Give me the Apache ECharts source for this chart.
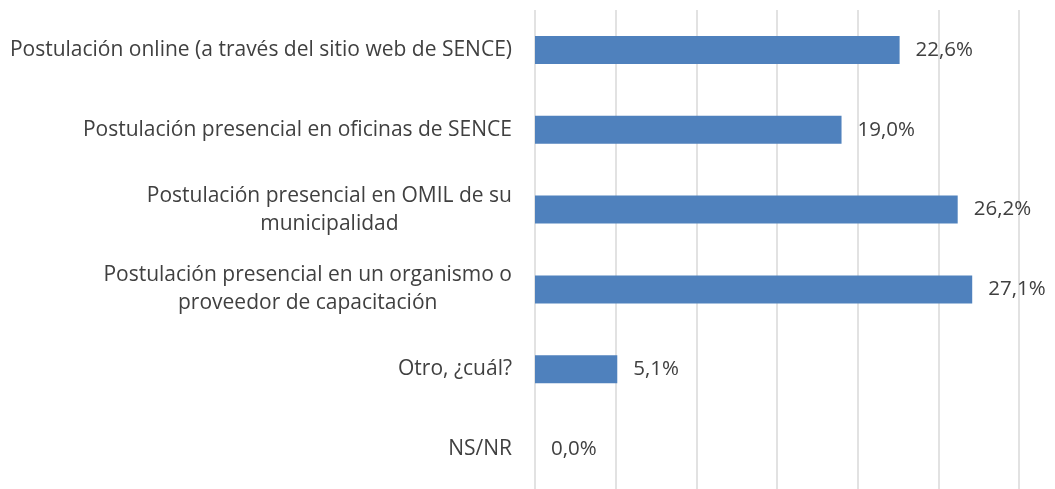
<!DOCTYPE html>
<html>
<head>
<meta charset="utf-8">
<script src="https://cdn.jsdelivr.net/npm/echarts@6/dist/echarts.min.js"></script>
<style>
  html, body { margin: 0; padding: 0; background: #fff; }
  #chart { width: 1055px; height: 489px; }
</style>
</head>
<body>
<div id="chart"></div>
<script>
// categories, top to bottom
const categories = [
  'Postulación online (a través del sitio web de SENCE)',
  'Postulación presencial en oficinas de SENCE',
  'Postulación presencial en OMIL de su\nmunicipalidad',
  'Postulación presencial en un organismo o\nproveedor de capacitación',
  'Otro, ¿cuál?',
  'NS/NR'
];
const values = [22.6, 19.0, 26.2, 27.1, 5.1, 0.0];

const axisMin = 0;
const axisMax = 30;
const axisStep = 5;

let chart = echarts.init(document.getElementById('chart'));

let option = {
  animation: false,
  textStyle: { fontFamily: 'Open Sans' },
  grid: { left: 535, right: 36, top: 10, bottom: -4, containLabel: false },
  xAxis: {
    type: 'value',
    min: axisMin,
    max: axisMax,
    interval: axisStep,
    axisLabel: { show: false },
    axisLine: { show: false },
    axisTick: { show: false },
    splitLine: { show: true, lineStyle: { color: '#d9d9d9', width: 1.5 } }
  },
  yAxis: {
    type: 'category',
    inverse: true,
    data: categories,
    axisLine: { show: false },
    axisTick: { show: false },
    axisLabel: {
      margin: 23,
      fontSize: 21,
      color: '#404040',
      formatter: function (v) {
        return v.split('\n').map(s => '{c|' + s + '}').join('\n');
      },
      rich: {
        c: { align: 'center', fontSize: 21, color: '#404040', lineHeight: 28, fontFamily: 'Open Sans' }
      }
    }
  },
  series: [
    {
      type: 'bar',
      data: values,
      barWidth: 28,
      itemStyle: { color: '#4f81bd' },
      label: {
        show: true,
        position: 'right',
        distance: 16,
        fontSize: 20.5,
        color: '#404040',
        formatter: p => p.value.toFixed(1).replace('.', ',') + '%'
      }
    }
  ]
};

chart.setOption(option);
</script>
</body>
</html>
